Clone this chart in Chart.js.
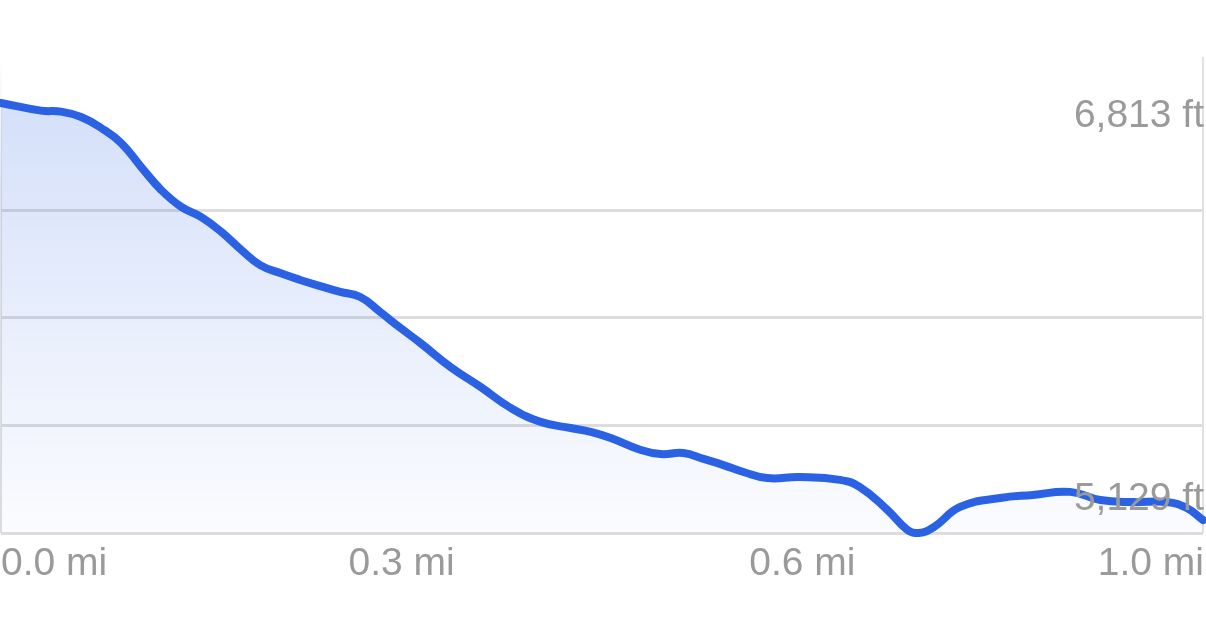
<!DOCTYPE html>
<html>
<head>
<meta charset="utf-8">
<script src="https://cdn.jsdelivr.net/npm/chart.js@4.4.1/dist/chart.umd.min.js"></script>
<style>
  html, body { margin: 0; padding: 0; background: #fff; }
  #wrap { width: 1206px; height: 636px; }
</style>
</head>
<body>
<div id="wrap"><canvas id="elevChart"></canvas></div>
<script>
// Elevation profile, distance in miles / elevation in feet
const totalDistance = 0.96;
const distances = [0, 0.032, 0.048, 0.064, 0.080, 0.096, 0.112, 0.128, 0.144, 0.160,
  0.176, 0.192, 0.207, 0.223, 0.239, 0.255, 0.271, 0.287, 0.303, 0.319,
  0.335, 0.359, 0.383, 0.407, 0.431, 0.455, 0.471, 0.487, 0.511, 0.527,
  0.545, 0.561, 0.577, 0.593, 0.612, 0.638, 0.670, 0.686, 0.708, 0.724,
  0.733, 0.745, 0.766, 0.798, 0.824, 0.854, 0.878, 0.904, 0.931, 0.947, 0.960];
const elevations = [6813, 6783, 6779, 6758, 6715, 6656, 6562, 6472, 6406, 6366,
  6308, 6237, 6178, 6147, 6120, 6096, 6073, 6053, 5994, 5932,
  5873, 5779, 5701, 5619, 5564, 5540, 5525, 5501, 5454, 5438,
  5442, 5419, 5395, 5368, 5344, 5348, 5337, 5309, 5219, 5141,
  5129, 5152, 5231, 5266, 5278, 5290, 5258, 5250, 5250, 5227, 5180];
const maxElev = 6813;
const minElev = 5129;
const xTickValues = [0, totalDistance / 3, 2 * totalDistance / 3, totalDistance];
const yGridValues = [5129, 5550, 5971, 6392];

const labelFont = '39px "Liberation Sans", Arial, sans-serif';
const labelColor = '#9a9a9a';

const points = distances.map((d, i) => ({ x: d, y: elevations[i] }));

// vertical side borders + text labels
const profileLabels = {
  id: 'profileLabels',
  beforeDatasetsDraw(chart) {
    const { ctx, chartArea } = chart;
    ctx.save();
    ctx.lineWidth = 2;
    ctx.strokeStyle = '#e2e2e2';
    ctx.beginPath();
    ctx.moveTo(chartArea.right, chartArea.top);
    ctx.lineTo(chartArea.right, chartArea.bottom);
    ctx.stroke();
    const g = ctx.createLinearGradient(0, chartArea.top, 0, chartArea.bottom);
    g.addColorStop(0, 'rgba(220,220,220,0)');
    g.addColorStop(0.3, 'rgba(220,220,220,0.8)');
    g.addColorStop(1, 'rgba(220,220,220,1)');
    ctx.strokeStyle = g;
    ctx.beginPath();
    ctx.moveTo(chartArea.left, chartArea.top);
    ctx.lineTo(chartArea.left, chartArea.bottom);
    ctx.stroke();
    ctx.restore();
  },
  afterDraw(chart) {
    const { ctx, chartArea, scales } = chart;
    ctx.save();
    ctx.font = labelFont;
    ctx.fillStyle = labelColor;
    ctx.textBaseline = 'middle';

    // elevation labels
    ctx.textAlign = 'right';
    ctx.fillText(maxElev.toLocaleString('en-US') + ' ft', chartArea.right + 1, scales.y.getPixelForValue(maxElev) + 13);
    ctx.fillText(minElev.toLocaleString('en-US') + ' ft', chartArea.right + 1, scales.y.getPixelForValue(minElev) - 34);

    // distance labels
    const ty = chartArea.bottom + 31;
    xTickValues.forEach((v, i) => {
      const px = scales.x.getPixelForValue(v);
      const last = i === xTickValues.length - 1;
      ctx.textAlign = i === 0 ? 'left' : (last ? 'right' : 'center');
      ctx.fillText(v.toFixed(1) + ' mi', i === 0 ? px : px + (last ? 1 : 0), ty);
    });
    ctx.restore();
  }
};

const ctx = document.getElementById('elevChart').getContext('2d');

new Chart(ctx, {
  type: 'line',
  data: {
    datasets: [{
      data: points,
      borderColor: '#2a62e3',
      borderWidth: 8,
      borderCapStyle: 'round',
      borderJoinStyle: 'round',
      pointRadius: 0,
      tension: 0.45,
      fill: 'start',
      backgroundColor: (context) => {
        const area = context.chart.chartArea;
        if (!area) return 'rgba(42,98,227,0.15)';
        const top = context.chart.scales.y.getPixelForValue(maxElev);
        const g = context.chart.ctx.createLinearGradient(0, top, 0, area.bottom);
        g.addColorStop(0, 'rgba(42,98,227,0.2)');
        g.addColorStop(1, 'rgba(42,98,227,0.02)');
        return g;
      },
      clip: false
    }]
  },
  options: {
    responsive: true,
    maintainAspectRatio: false,
    animation: false,
    layout: { padding: { left: 1, right: 3, top: 57, bottom: 103 } },
    plugins: { legend: { display: false }, tooltip: { enabled: false } },
    scales: {
      x: {
        type: 'linear',
        min: 0,
        max: totalDistance,
        display: true,
        ticks: { display: false },
        grid: { display: false, drawTicks: false },
        border: { display: false }
      },
      y: {
        min: minElev,
        max: 6993,
        ticks: { display: false },
        afterBuildTicks: (scale) => {
          scale.ticks = yGridValues.map(v => ({ value: v }));
        },
        grid: { color: '#dddddd', lineWidth: 3, drawTicks: false },
        border: { display: false }
      }
    }
  },
  plugins: [profileLabels]
});
</script>
</body>
</html>
